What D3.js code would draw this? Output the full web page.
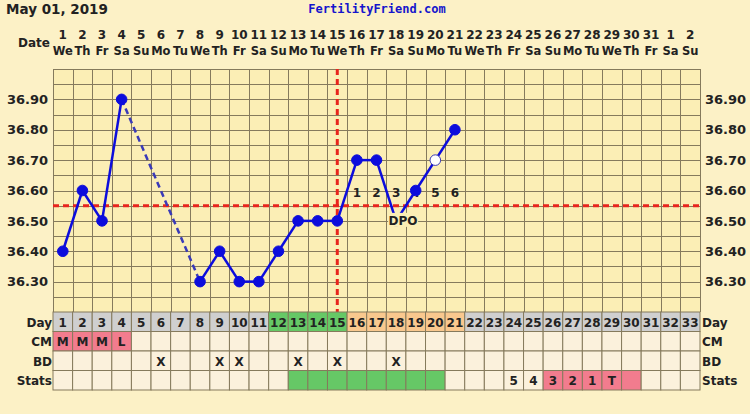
<!DOCTYPE html>
<html><head><meta charset="utf-8">
<script src="https://cdn.jsdelivr.net/npm/d3@7"></script>
<style>body{margin:0;background:#fcf1c6;}svg{display:block;}</style>
</head><body>
<svg id="c" width="750" height="414"></svg>
<script>
const days = d3.range(1, 34);
const dateNums = [1,2,3,4,5,6,7,8,9,10,11,12,13,14,15,16,17,18,19,20,21,22,23,24,25,26,27,28,29,30,31,1,2];
const weekdays = ["We","Th","Fr","Sa","Su","Mo","Tu","We","Th","Fr","Sa","Su","Mo","Tu","We","Th","Fr","Sa","Su","Mo","Tu","We","Th","Fr","Sa","Su","Mo","Tu","We","Th","Fr","Sa","Su"];
const tempDays = [1,2,3,4,8,9,10,11,12,13,14,15,16,17,18,19,20,21];
const temps = [36.40,36.60,36.50,36.90,36.30,36.40,36.30,36.30,36.40,36.50,36.50,36.50,36.70,36.70,36.50,36.60,36.70,36.80];
const openDays = [20];
const yTicks = [36.30,36.40,36.50,36.60,36.70,36.80,36.90];
const coverline = 36.55;
const ovulationDay = 15;
const dpoDays = [16,17,18,19,20,21];
const dpoLabels = ["1","2","3","4","5","6"];
const dayColorGroups = {green:[12,13,14,15], orange:[16,17,18,19,20,21]};
const cmDays = [1,2,3,4];
const cmLabels = ["M","M","M","L"];
const bdDays = [6,9,10,13,15,18];
const statsGreen = [13,14,15,16,17,18,19,20];
const statsPink = [26,27,28,29,30];
const statsTextDays = [24,25,26,27,28,29];
const statsTexts = ["5","4","3","2","1","T"];
const rowLabels = ["Day","CM","BD","Stats"];

const svg = d3.select("#c");
const font = "Verdana, 'DejaVu Sans', sans-serif";
const x = d3.scaleBand().domain(days).range([53, 700]);
const bw = x.bandwidth();
const cx = d => x(d) + bw/2;
const y = d3.scaleLinear().domain([36.2, 37.0]).range([312, 69]);

// header
svg.append("text").attr("x", 6).attr("y", 14).attr("font-family", font).attr("font-weight", "bold")
  .attr("font-size", 13.5).attr("fill", "#222").text("May 01, 2019");
svg.append("text").attr("x", 377).attr("y", 13).attr("text-anchor", "middle")
  .attr("font-family", "'DejaVu Sans Mono', 'Liberation Mono', monospace").attr("font-weight", "bold")
  .attr("font-size", 12).attr("fill", "#1515cc").text("FertilityFriend.com");

// Date row
svg.append("text").attr("x", 50).attr("y", 47).attr("text-anchor", "end").attr("font-family", font)
  .attr("font-weight", "bold").attr("font-size", 12).attr("fill", "#222").text("Date");
svg.selectAll("text.dn").data(days).join("text").attr("class", "dn")
  .attr("x", d => cx(d)).attr("y", 39).attr("text-anchor", "middle").attr("font-family", font)
  .attr("font-weight", "bold").attr("font-size", 12).attr("fill", "#222").text((d,i) => dateNums[i]);
svg.selectAll("text.wd").data(days).join("text").attr("class", "wd")
  .attr("x", d => cx(d)).attr("y", 55).attr("text-anchor", "middle").attr("font-family", font)
  .attr("font-weight", "bold").attr("font-size", 11.5).attr("fill", "#222").text((d,i) => weekdays[i]);

// plot area
svg.append("rect").attr("x", 53).attr("y", y(37.0)).attr("width", 647).attr("height", y(36.2) - y(37.0)).attr("fill", "#fbeeb5");
const gridG = svg.append("g").attr("stroke", "#857a5c").attr("stroke-width", 1);
d3.range(36.2, 37.001, 0.05).forEach(v => {
  gridG.append("line").attr("x1", 53).attr("x2", 700).attr("y1", Math.round(y(v)) + 0.5).attr("y2", Math.round(y(v)) + 0.5);
});
days.concat([34]).forEach(d => {
  const xx = d === 34 ? 700 : x(d);
  gridG.append("line").attr("x1", Math.round(xx) + 0.5).attr("x2", Math.round(xx) + 0.5).attr("y1", y(37.0)).attr("y2", y(36.2));
});

// y axes
const yAxisL = d3.axisLeft(y).tickValues(yTicks).tickFormat(d3.format(".2f")).tickSize(0).tickPadding(5);
const yAxisR = d3.axisRight(y).tickValues(yTicks).tickFormat(d3.format(".2f")).tickSize(0).tickPadding(5);
[[yAxisL, 53], [yAxisR, 700]].forEach(([ax, pos]) => {
  const g = svg.append("g").attr("transform", `translate(${pos},0)`).call(ax);
  g.select(".domain").remove();
  g.selectAll("text").attr("font-family", font).attr("font-weight", "bold").attr("font-size", 13).attr("fill", "#222");
});

// coverline
svg.append("line").attr("x1", 53).attr("x2", 700).attr("y1", y(coverline)).attr("y2", y(coverline))
  .attr("stroke", "#e8251c").attr("stroke-width", 3).attr("stroke-dasharray", "6,4");
// ovulation line
svg.append("line").attr("x1", cx(ovulationDay)).attr("x2", cx(ovulationDay)).attr("y1", y(37.0)).attr("y2", 312)
  .attr("stroke", "#e8251c").attr("stroke-width", 3).attr("stroke-dasharray", "6,4");

// temps
const pts = tempDays.map((d, i) => ({d, v: temps[i]}));
const line = d3.line().x(p => cx(p.d)).y(p => y(p.v));
for (let i = 1; i < pts.length; i++) {
  const a = pts[i-1], b = pts[i];
  const gap = b.d - a.d > 1;
  svg.append("path").attr("d", line([a, b])).attr("fill", "none").attr("stroke", gap ? "#3a3ab8" : "#0c0cdc")
    .attr("stroke-width", 2.5).attr("stroke-dasharray", gap ? "6,4" : null);
}
// DPO numbers
svg.selectAll("text.dpo").data(dpoDays).join("text").attr("class", "dpo")
  .attr("x", d => cx(d)).attr("y", y(36.58)).attr("text-anchor", "middle").attr("font-family", font)
  .attr("font-weight", "bold").attr("font-size", 12).attr("fill", "#222").text((d,i) => dpoLabels[i]);
svg.selectAll("circle.pt").data(pts).join("circle").attr("class", "pt")
  .attr("cx", p => cx(p.d)).attr("cy", p => y(p.v)).attr("r", 5.3)
  .attr("fill", p => openDays.includes(p.d) ? "#ffffff" : "#0c0cdc")
  .attr("stroke", p => openDays.includes(p.d) ? "#3a3ab8" : "#0c0cdc").attr("stroke-width", 1);
// DPO label
const dpoX = cx(18) + 7, dpoY = y(36.5) + 3;
svg.append("rect").attr("x", dpoX - 15).attr("y", dpoY - 11).attr("width", 30).attr("height", 14).attr("fill", "#fbeeb5");
svg.append("text").attr("x", dpoX).attr("y", dpoY + 1).attr("text-anchor", "middle").attr("font-family", font)
  .attr("font-weight", "bold").attr("font-size", 12).attr("fill", "#222").text("DPO");

// table
const rowTop = 312, rowH = 19.5;
const cellFill = (row, d) => {
  if (row === 0) {
    if (dayColorGroups.green.includes(d)) return "#66c866";
    if (dayColorGroups.orange.includes(d)) return "#f9c88e";
    return "#cfcfcf";
  }
  if (row === 1 && cmDays.includes(d)) return "#f27c8e";
  if (row === 3 && statsGreen.includes(d)) return "#66c866";
  if (row === 3 && statsPink.includes(d)) return "#f27c8e";
  return "#fbf1dc";
};
for (let r = 0; r < 4; r++) {
  svg.selectAll(`rect.r${r}`).data(days).join("rect").attr("class", `r${r}`)
    .attr("x", d => x(d)).attr("y", rowTop + r*rowH).attr("width", bw).attr("height", rowH)
    .attr("fill", d => cellFill(r, d)).attr("stroke", "#857a5c").attr("stroke-width", 1);
  const ly = rowTop + r*rowH + rowH/2 + 5;
  svg.append("text").attr("x", 52).attr("y", ly).attr("text-anchor", "end").attr("font-family", font)
    .attr("font-weight", "bold").attr("font-size", 12).attr("fill", "#222").text(rowLabels[r]);
  svg.append("text").attr("x", 702).attr("y", ly).attr("text-anchor", "start").attr("font-family", font)
    .attr("font-weight", "bold").attr("font-size", 12).attr("fill", "#222").text(rowLabels[r]);
}
const cellText = (row, ds, labels) => {
  svg.selectAll(`text.t${row}`).data(ds).join("text").attr("class", `t${row}`)
    .attr("x", d => cx(d)).attr("y", rowTop + row*rowH + rowH/2 + 5).attr("text-anchor", "middle")
    .attr("font-family", font).attr("font-weight", "bold").attr("font-size", 12).attr("fill", "#222")
    .text((d,i) => labels[i]);
};
cellText(0, days, days.map(String));
cellText(1, cmDays, cmLabels);
cellText(2, bdDays, bdDays.map(() => "X"));
cellText(3, statsTextDays, statsTexts);
</script>
</body></html>
